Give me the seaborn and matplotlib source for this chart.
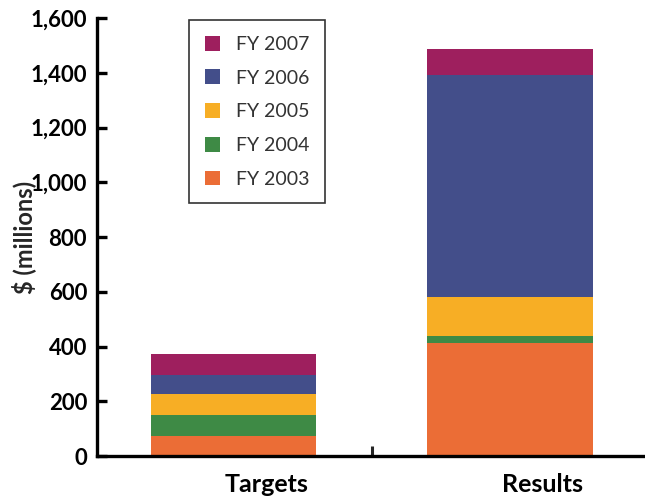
import numpy as np
import pandas as pd
import matplotlib
matplotlib.use("Agg")
import matplotlib.pyplot as plt
import matplotlib.transforms as mtransforms
import seaborn as sns

# Values ($ millions)
categories = ["Targets", "Results"]
years = ["FY 2003", "FY 2004", "FY 2005", "FY 2006", "FY 2007"]
fy2003 = [75, 415]
fy2004 = [76, 22]
fy2005 = [76, 146]
fy2006 = [71, 809]
fy2007 = [74, 96]
colors = ["#EB6D36", "#3E8A45", "#F7AE25", "#434E8A", "#9E1F5E"]
yticks = [0, 200, 400, 600, 800, 1000, 1200, 1400, 1600]

sns.set_theme(style="white")
plt.rcParams["font.family"] = ["Lato", "DejaVu Sans"]

# stacked tops for each segment
df = pd.DataFrame({"category": categories, "FY 2003": fy2003, "FY 2004": fy2004,
                   "FY 2005": fy2005, "FY 2006": fy2006, "FY 2007": fy2007})
cum = df[years].cumsum(axis=1)

fig = plt.figure(figsize=(6.45, 5.04), dpi=100)
ax = fig.add_axes([0.150, 0.095, 0.85, 0.869])

# draw tallest stack first so lower segments sit on top of it
for i in reversed(range(len(years))):
    sns.barplot(x=df["category"], y=cum[years[i]], color=colors[i], label=years[i],
                width=0.6, saturation=1, ax=ax, edgecolor="none")

ax.set_ylim(0, 1600)
ax.set_xlim(-0.495, 1.49)
ax.set_yticks(yticks)
ax.set_yticklabels([f"{v:,}" for v in yticks], fontsize=16, fontweight="bold")
ax.set_xlabel("")
ax.set_ylabel("$ (millions)", fontsize=17, fontweight="bold", labelpad=-4)

for s in ["top", "right"]:
    ax.spines[s].set_visible(False)
for s in ["left", "bottom"]:
    ax.spines[s].set_linewidth(2.4)
    ax.spines[s].set_color("black")

ax.tick_params(axis="y", direction="in", length=7, width=2.4, pad=7, colors="black", left=True)
ax.tick_params(axis="x", which="major", length=0, pad=12)
ax.set_xticks([0.5], minor=True)
ax.tick_params(axis="x", which="minor", direction="in", length=7, width=2.2, bottom=True)

# category labels sit a little right of the bar centres
offset = mtransforms.ScaledTranslation(33 / 100, 0, fig.dpi_scale_trans)
for lbl in ax.get_xticklabels():
    lbl.set_fontsize(18)
    lbl.set_fontweight("bold")
    lbl.set_color("black")
    lbl.set_transform(lbl.get_transform() + offset)

leg = ax.legend(loc="upper left", bbox_to_anchor=(0.165, 1.0), fontsize=14,
                frameon=True, fancybox=False, handlelength=0.8, handleheight=0.8,
                handletextpad=0.8, labelspacing=0.85, borderpad=0.8, borderaxespad=0.1)
leg.get_frame().set_edgecolor("black")
leg.get_frame().set_linewidth(1.2)
for t in leg.get_texts():
    t.set_color("#333333")

fig.savefig("out.png", dpi=100)
